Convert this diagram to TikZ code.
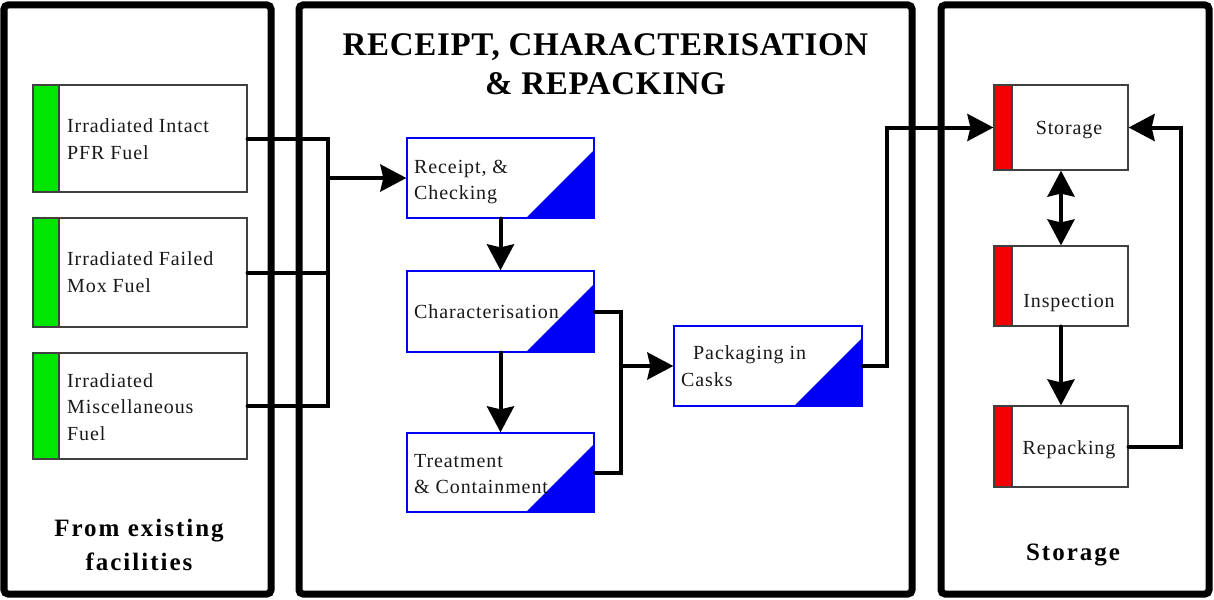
\documentclass[tikz,border=0pt]{standalone}
\usepackage{fontspec}
\setmainfont{Liberation Serif}
\newfontfamily\bodyfont[LetterSpace=4.5]{Liberation Serif}
\newfontfamily\headfont[LetterSpace=8]{Liberation Serif}
\newfontfamily\titlefont[LetterSpace=2]{Liberation Serif}
\usetikzlibrary{arrows.meta}

\definecolor{fuelgreen}{RGB}{0,230,0}
\definecolor{storered}{RGB}{245,0,0}
\definecolor{procblue}{RGB}{0,0,245}

\tikzset{
  panelbox/.style={draw=black, line width=7pt, rounded corners=4pt, inner sep=0pt},
  fuelbox/.style={draw=black!75, line width=1.2pt, fill=white, inner sep=0pt,
    minimum width=214pt,
    path picture={
      \fill[fuelgreen] (path picture bounding box.south west) rectangle
        ([xshift=26pt]path picture bounding box.north west);
      \draw[black!75, line width=1.2pt] ([xshift=26pt]path picture bounding box.south west) --
        ([xshift=26pt]path picture bounding box.north west);}},
  storebox/.style={draw=black!75, line width=1.2pt, fill=white, inner sep=0pt,
    minimum width=134pt,
    path picture={
      \fill[storered] (path picture bounding box.south west) rectangle
        ([xshift=18pt]path picture bounding box.north west);
      \draw[black!75, line width=1.2pt] ([xshift=18pt]path picture bounding box.south west) --
        ([xshift=18pt]path picture bounding box.north west);}},
  procbox/.style={draw=procblue, line width=1.3pt, fill=white, inner sep=0pt,
    minimum width=187pt, minimum height=80pt,
    path picture={
      \fill[procblue] ([xshift=-68pt]path picture bounding box.south east) --
        (path picture bounding box.south east) --
        ([yshift=68pt]path picture bounding box.south east) -- cycle;}},
  boxtext/.style={inner sep=0pt, align=left, text=black!90,
    font=\bodyfont\fontsize{20}{26.7}\selectfont},
  headtext/.style={inner sep=0pt, align=center,
    font=\headfont\bfseries\fontsize{25}{34}\selectfont},
  titletext/.style={inner sep=0pt, align=center,
    font=\titlefont\bfseries\fontsize{33}{39}\selectfont},
  conn/.style={line width=4pt, line cap=round, line join=miter,
    arrows={-Stealth[length=26pt, width=27pt, inset=3pt]}},
  link/.style={line width=4pt, line cap=round, line join=miter},
}

\begin{document}
\begin{tikzpicture}[x=1pt, y=-1pt]
  \useasboundingbox (0,0) rectangle (1214,599);

  % three framed areas
  \node[panelbox, minimum width=267pt, minimum height=589pt] (leftpanel) at (137.5,299.5) {};
  \node[panelbox, minimum width=613pt, minimum height=589pt] (midpanel) at (605.5,299.5) {};
  \node[panelbox, minimum width=268pt, minimum height=589pt] (rightpanel) at (1075,299.5) {};

  \node[headtext] (leftlabel) at (139,545) {From existing\\facilities};
  \node[headtext, anchor=base] (rightlabel) at (1073,560) {Storage};
  \node[titletext] (midlabel) at (605.5,64.5) {RECEIPT, CHARACTERISATION\\\& REPACKING};

  % incoming fuel types
  \node[fuelbox, minimum height=107pt] (f1) at (140,138.5) {};
  \node[fuelbox, minimum height=109pt] (f2) at (140,272.5) {};
  \node[fuelbox, minimum height=106pt] (f3) at (140,406) {};
  \node[boxtext, anchor=west] (f1t) at (67,139) {Irradiated Intact\\PFR Fuel};
  \node[boxtext, anchor=west] (f2t) at (67,272) {Irradiated Failed\\Mox Fuel};
  \node[boxtext, anchor=west] (f3t) at (67,407) {Irradiated\\Miscellaneous\\Fuel};

  % process steps
  \node[procbox] (rc) at (500.5,178) {};
  \node[procbox, minimum height=81pt] (ch) at (500.5,311.5) {};
  \node[procbox, minimum height=79pt] (tr) at (500.5,472.5) {};
  \node[procbox, minimum width=188pt] (pk) at (768,366) {};
  \node[boxtext, anchor=west] (rct) at (414,182) {Receipt, \&\\Checking};
  \node[boxtext, anchor=base west] (cht) at (414,318) {Characterisation};
  \node[boxtext, anchor=west] (trt) at (414,474) {Treatment\\\& Containment};
  \node[boxtext, anchor=west] (pkt) at (681,366) {\hspace*{12pt}Packaging in\\Casks};

  % storage area
  \node[storebox, minimum height=85pt] (st) at (1061,127.5) {};
  \node[storebox, minimum height=80pt] (in) at (1061,286) {};
  \node[storebox, minimum height=81pt] (rp) at (1061,446.5) {};
  \node[boxtext, anchor=base] (stt) at (1069,134) {Storage};
  \node[boxtext, anchor=base] (int) at (1069,307) {Inspection};
  \node[boxtext, anchor=base] (rpt) at (1069,454) {Repacking};

  % routing columns
  \coordinate (busx) at (328,0);
  \coordinate (jx) at (621,0);
  \coordinate (ux) at (887,0);
  \coordinate (rx) at (1181,0);

  % connectors
  \draw[link] (f1.east) -- (f1.east -| busx) -- (f3.east -| busx) -- (f3.east);
  \draw[link] (f2.east) -- (f2.east -| busx);
  \draw[conn] (rc.west -| busx) -- (rc.west);
  \draw[conn] (rc.south) -- (ch.north);
  \draw[conn] (ch.south) -- (tr.north);
  \draw[link] (ch.east) -- (ch.east -| jx) -- (tr.east -| jx) -- (tr.east);
  \draw[conn] (pk.west -| jx) -- (pk.west);
  \draw[conn] (pk.east) -- (pk.east -| ux) -- (st.west -| ux) -- (st.west);
  \draw[conn, arrows={Stealth[length=26pt, width=27pt, inset=3pt]-Stealth[length=26pt, width=27pt, inset=3pt]}] (st.south) -- (in.north);
  \draw[conn] (in.south) -- (rp.north);
  \draw[conn] (rp.east) -- (rp.east -| rx) -- (st.east -| rx) -- (st.east);
\end{tikzpicture}
\end{document}
